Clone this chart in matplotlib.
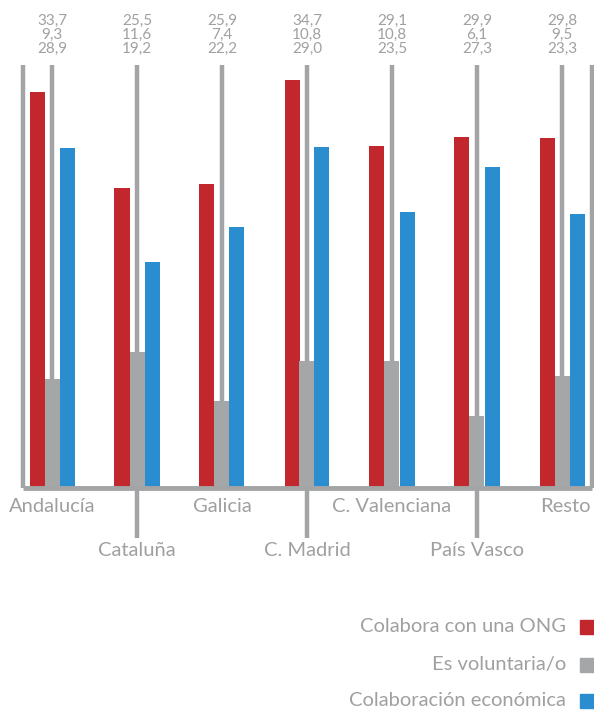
import matplotlib
matplotlib.use("Agg")
import matplotlib.pyplot as plt
from matplotlib.transforms import blended_transform_factory
from matplotlib.patches import Rectangle

categories = ["Andalucía", "Cataluña", "Galicia", "C. Madrid", "C. Valenciana", "País Vasco", "Resto"]
ong = [33.7, 25.5, 25.9, 34.7, 29.1, 29.9, 29.8]
voluntaria = [9.3, 11.6, 7.4, 10.8, 10.8, 6.1, 9.5]
economica = [28.9, 19.2, 22.2, 29.0, 23.5, 27.3, 23.3]
series_names = ["Colabora con una ONG", "Es voluntaria/o", "Colaboración económica"]

RED = "#c1272d"
GREY = "#a4a6a7"
BLUE = "#2a8dcf"
LINE = "#a2a4a5"
TEXT = "#a0a0a0"
FONT = "Lato"

W, H = 594, 710
fig = plt.figure(figsize=(W / 100, H / 100), dpi=100)
base_px, top_px = 488, 65
ax = fig.add_axes([0, 1 - base_px / H, 1, (base_px - top_px) / H])
ax.set_xlim(-52 / 85, (W - 52) / 85)
ax.set_ylim(0, 36)
ax.axis("off")

n = len(categories)
xs = list(range(n))
bw = 15 / 85
for vals, col, off in [(ong, RED, -bw), (voluntaria, GREY, 0), (economica, BLUE, bw)]:
    ax.bar([x + off for x in xs], vals, width=bw, color=col, zorder=2, linewidth=0)

tr = blended_transform_factory(ax.transData, ax.transAxes)
lw = 3.2
# vertical guide lines
for i in xs:
    ymin = -50 / (base_px - top_px) if i % 2 == 1 else 0
    ax.plot([i, i], [ymin, 1], color=LINE, lw=lw, transform=tr, clip_on=False, zorder=1,
            solid_capstyle="butt")
for xe in (-29 / 85, 6 + 30 / 85):
    ax.plot([xe, xe], [0, 1], color=LINE, lw=lw, transform=tr, clip_on=False, zorder=1,
            solid_capstyle="butt")
# baseline
ax.plot([-29 / 85, 6 + 30 / 85], [0, 0], color=LINE, lw=3.5, transform=tr, clip_on=False,
        zorder=3, solid_capstyle="butt")

trf = blended_transform_factory(ax.transData, fig.transFigure)
for i in xs:
    for k, vals in enumerate([ong, voluntaria, economica]):
        ax.text(i, 1 - (20.5 + 14.3 * k) / H, f"{vals[i]:.1f}".replace(".", ","),
                transform=trf, ha="center", va="center", fontsize=11, color=TEXT,
                family=FONT)
    ypx = 507 if i % 2 == 0 else 551
    ax.text(i if i < n - 1 else i + 0.04, 1 - ypx / H, categories[i], transform=trf,
            ha="center", va="center", fontsize=14.5, color=TEXT, family=FONT)

legend_y = [626.5, 664.5, 700.5]
for name, col, ypx in zip(series_names, [RED, GREY, BLUE], legend_y):
    fig.text(566 / W, 1 - ypx / H, name, ha="right", va="center", fontsize=14.5,
             color=TEXT, family=FONT)
    fig.patches.append(Rectangle((580 / W, 1 - (ypx + 7) / H), 14 / W, 14 / H,
                                 transform=fig.transFigure, color=col, figure=fig))

fig.savefig("out.png", dpi=100)
